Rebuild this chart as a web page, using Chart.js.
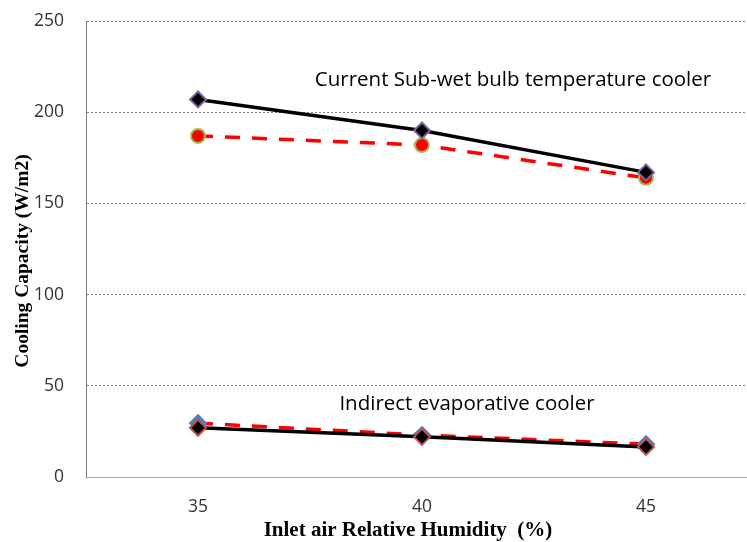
<!DOCTYPE html>
<html>
<head>
	<title>Cooling capacity</title>
	<script src="https://cdn.jsdelivr.net/npm/chart.js@4.4.1/dist/chart.umd.min.js"></script>
	<style>
		html, body { margin: 0; padding: 0; background: #fff; overflow: hidden; }
		#wrap { width: 770px; height: 542px; }
	</style>
</head>
<body>
<div id="wrap">
	<canvas id="grafico" width="770" height="542"></canvas>
</div>

<script>
	// humedad relativa del aire de entrada (%)
	var humedad = ['35', '40', '45'];
	// enfriador sub-bulbo humedo
	var subHumedoModelo = [207, 190, 167];
	var subHumedoRef = [187, 182, 164];
	// enfriador evaporativo indirecto
	var indirectoRef = [29.5, 23, 18];
	var indirectoModelo = [27, 22, 16.5];
	var ticksY = [0, 50, 100, 150, 200, 250];

	var fuenteTick = { family: '"Open Sans", sans-serif', size: 17.5 };

	// textos dentro del grafico y titulos de ejes
	var rotulos = {
		id: 'rotulos',
		afterDraw: function (chart) {
			var ctx = chart.ctx;
			ctx.save();
			ctx.fillStyle = '#000';
			ctx.font = '20.5px "Open Sans", sans-serif';
			ctx.textAlign = 'center';
			ctx.textBaseline = 'middle';
			ctx.fillText('Current Sub-wet bulb temperature cooler', 513, 80);
			ctx.fillText('Indirect evaporative cooler', 467, 404);

			ctx.font = 'bold 21px "Liberation Serif", serif';
			ctx.fillText('Inlet air Relative Humidity  (%)', 408, 531);

			ctx.translate(23, 261);
			ctx.rotate(-Math.PI / 2);
			ctx.font = 'bold 19.5px "Liberation Serif", serif';
			ctx.fillText('Cooling Capacity (W/m2)', 0, 0);
			ctx.restore();
		}
	};

	var ctx = document.getElementById('grafico').getContext('2d');
	window.linea = new Chart(ctx, {
		type: 'line',
		data: {
			labels: humedad,
			datasets: [{
				data: subHumedoModelo,
				order: 1,
				borderColor: '#000',
				borderWidth: 3.5,
				pointStyle: 'rectRot',
				pointRadius: 8,
				pointBackgroundColor: '#000',
				pointBorderColor: '#8064A2',
				pointBorderWidth: 2
			}, {
				data: subHumedoRef,
				order: 2,
				borderColor: '#FF0000',
				borderWidth: 3.5,
				borderDash: [15, 12],
				pointStyle: 'circle',
				pointRadius: 7,
				pointBackgroundColor: '#FF0000',
				pointBorderColor: '#9BBB59',
				pointBorderWidth: 2
			}, {
				data: indirectoModelo,
				order: 3,
				borderColor: '#000',
				borderWidth: 3.5,
				pointStyle: 'rectRot',
				pointRadius: 8,
				pointBackgroundColor: '#000',
				pointBorderColor: '#C0504D',
				pointBorderWidth: 2
			}, {
				data: indirectoRef,
				order: 4,
				borderColor: '#FF0000',
				borderWidth: 3.5,
				borderDash: [15, 12],
				pointStyle: 'rectRot',
				pointRadius: 8,
				pointBackgroundColor: '#4F81BD',
				pointBorderColor: '#4F81BD',
				pointBorderWidth: 2
			}]
		},
		options: {
			responsive: false,
			animation: false,
			layout: { padding: { top: 21, right: 12, left: 0, bottom: 0 } },
			plugins: {
				legend: { display: false },
				tooltip: { enabled: false }
			},
			scales: {
				x: {
					offset: true,
					grid: { display: false, drawTicks: false },
					border: { display: true, color: '#A6A6A6', width: 1 },
					ticks: { font: fuenteTick, color: '#333', padding: 20 },
					afterFit: function (s) {
						s.height = 65;
						s.paddingLeft = 0;
						s.paddingRight = 0;
					}
				},
				y: {
					min: 0,
					max: 250,
					afterBuildTicks: function (s) {
						s.ticks = ticksY.map(function (v) { return { value: v }; });
					},
					grid: {
						drawTicks: false,
						color: function (c) { return c.tick.value === 0 ? 'rgba(0,0,0,0)' : '#7F7F7F'; },
						lineWidth: 1
					},
					border: { display: true, color: '#7F7F7F', dash: [2, 2] },
					ticks: { font: fuenteTick, color: '#333', padding: 22 },
					afterFit: function (s) {
						s.width = 86;
						s.paddingTop = 0;
						s.paddingBottom = 0;
					}
				}
			}
		},
		plugins: [rotulos]
	});
	// lineas de rejilla punteadas
	window.linea.options.scales.y.grid.borderDash = [2, 2];
	window.linea.update();
</script>
</body>
</html>
